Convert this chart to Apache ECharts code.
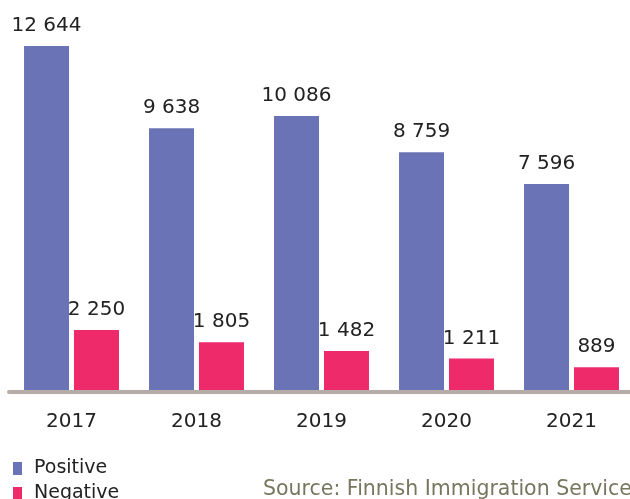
<!DOCTYPE html>
<html>
<head>
<meta charset="utf-8">
<script src="https://cdn.jsdelivr.net/npm/echarts@6/dist/echarts.min.js"></script>
<style>
  html, body { margin: 0; padding: 0; background: #fff; overflow: hidden; }
  #chart { width: 640px; height: 499px; }
</style>
</head>
<body>
<div id="chart"></div>
<script>
// Residence permit decisions per year
const years = ['2017', '2018', '2019', '2020', '2021'];
const positive = [12644, 9638, 10086, 8759, 7596];
const negative = [2250, 1805, 1482, 1211, 889];
const seriesNames = ['Positive', 'Negative'];
const sourceText = 'Source: Finnish Immigration Service';

const FONT = '"DejaVu Sans", Verdana, sans-serif';

// Thousands separated by a space, e.g. 12 644
function fmt(v) {
  return String(v).replace(/\B(?=(\d{3})+(?!\d))/g, ' ');
}

const chart = echarts.init(document.getElementById('chart'), null, { renderer: 'canvas' });

const labelStyle = {
  show: true,
  position: 'top',
  distance: 10,
  fontFamily: FONT,
  fontSize: 20,
  color: '#222222',
  formatter: p => fmt(p.value)
};

chart.setOption({
  animation: false,
  textStyle: { fontFamily: FONT },
  // the plot runs a few pixels past the visible right edge
  grid: { left: 9, width: 625, top: 9, height: 382.5, containLabel: false },
  title: {
    text: sourceText,
    left: 263,
    top: 479,
    padding: 0,
    textStyle: { fontFamily: FONT, fontSize: 20.5, fontWeight: 'normal', color: '#77775f' }
  },
  legend: {
    orient: 'vertical',
    left: 13,
    top: 459,
    height: 80,
    padding: 0,
    itemGap: 6,
    itemWidth: 9,
    itemHeight: 13,
    icon: 'rect',
    data: seriesNames,
    textStyle: { fontFamily: FONT, fontSize: 19, color: '#222222', padding: [0, 0, 0, 7] }
  },
  xAxis: {
    type: 'category',
    data: years,
    z: 5,
    offset: 2.5,
    axisLine: { show: true, lineStyle: { color: '#b5aca8', width: 4 } },
    axisTick: { show: false },
    axisLabel: { fontFamily: FONT, fontSize: 20, color: '#222222', margin: 18 }
  },
  yAxis: {
    type: 'value',
    min: 0,
    max: 14000,
    show: false,
    splitLine: { show: false }
  },
  series: [
    {
      name: seriesNames[0],
      type: 'bar',
      data: positive,
      barWidth: 45,
      barGap: '11%',
      itemStyle: { color: '#6b73b7' },
      label: labelStyle
    },
    {
      name: seriesNames[1],
      type: 'bar',
      data: negative,
      barWidth: 45,
      itemStyle: { color: '#ee2a6b' },
      label: labelStyle
    }
  ]
});
</script>
</body>
</html>
